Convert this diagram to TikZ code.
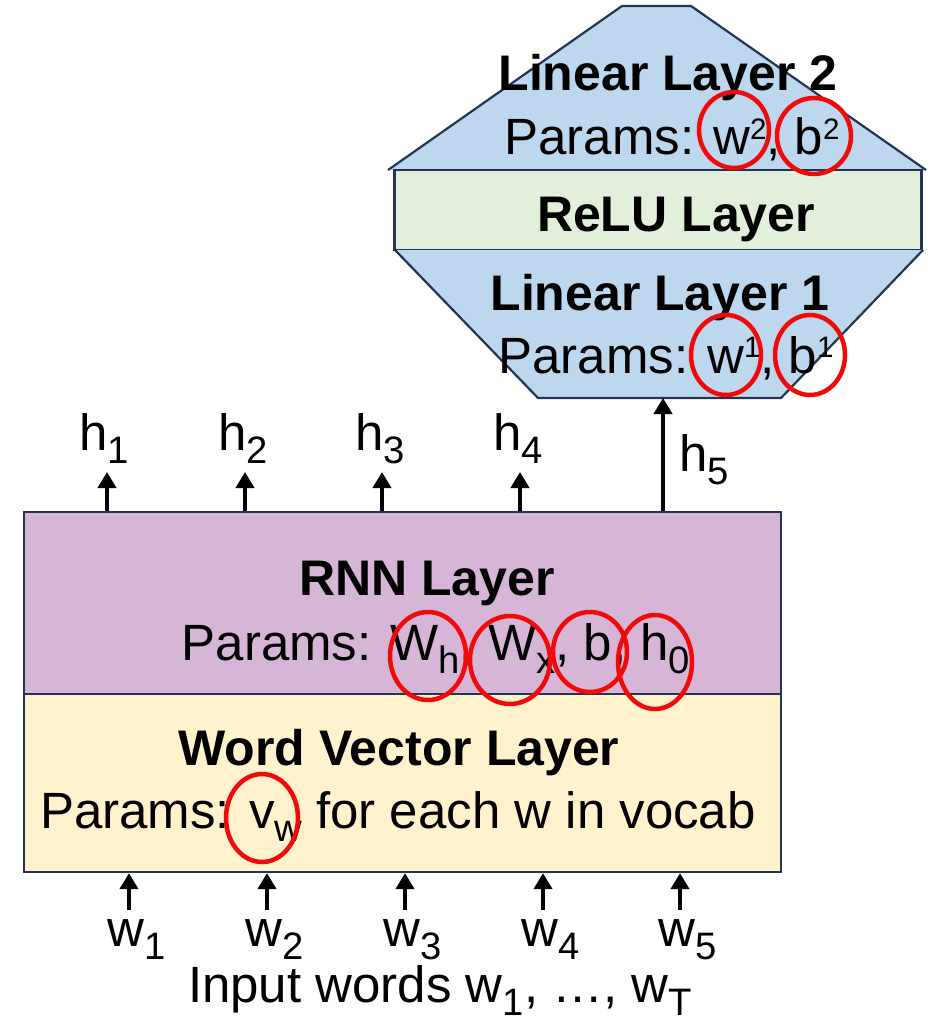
\documentclass[tikz,border=0pt]{standalone}
\usepackage{fontspec}
\usepackage{graphicx}
\setmainfont{Liberation Sans}
\usetikzlibrary{arrows.meta}

\definecolor{linblue}{RGB}{189,215,238}
\definecolor{relugreen}{RGB}{226,239,218}
\definecolor{rnnpurple}{RGB}{214,181,214}
\definecolor{wordyellow}{RGB}{255,242,204}
\definecolor{edgenavy}{RGB}{36,52,86}
\definecolor{ringred}{RGB}{240,10,10}

\newcommand{\lo}[1]{\raisebox{-0.26em}{\scalebox{0.75}{#1}}}
\newcommand{\hi}[1]{\raisebox{0.3em}{\scalebox{0.58}{#1}}}

\tikzset{
    layerbox/.style={draw=edgenavy, line width=2.2pt, inner sep=0pt},
    txt/.style={inner sep=0pt, anchor=base, font=\fontsize{51}{60}\selectfont},
    btxt/.style={txt, font=\fontsize{50}{60}\selectfont\bfseries},
    ring/.style={draw=ringred, line width=4.5pt},
    uparrow/.style={line width=4pt, -{Triangle[length=16pt,width=18pt]}}
}

\begin{document}
\begin{tikzpicture}[x=1pt, y=-1pt]
    \useasboundingbox (0,0) rectangle (933,1024);

    \fill[linblue] (388,170) -- (622,6) -- (691,6) -- (926,170) -- cycle;
    \draw[edgenavy, line width=2.2pt, line join=miter] (388,170) -- (622,6) -- (691,6) -- (926,170);
    \node[layerbox, fill=relugreen, minimum width=527pt, minimum height=80pt] at (658,210) (relu) {};
    \fill[linblue] (395,250) -- (923,250) -- (781,398) -- (538,398) -- cycle;
    \draw[edgenavy, line width=2.2pt] (395,250) -- (538,398) -- (781,398) -- (923,250);
    \coordinate (lin1bot) at (663,398);

    \node[btxt] at (668,91) (lin2title) {Linear Layer 2};
    \node[txt] at (672,155) (lin2params) {Params: w\hi{2}, b\hi{2}};
    \node[btxt] at (676,232) (relutitle) {ReLU Layer};
    \node[btxt] at (660,310) (lin1title) {Linear Layer 1};
    \node[txt] at (666,373) (lin1params) {Params: w\hi{1}, b\hi{1}};

    \node[layerbox, fill=rnnpurple, minimum width=757pt, minimum height=182pt] at (402.5,603) (rnn) {};
    \node[layerbox, fill=wordyellow, minimum width=757pt, minimum height=178pt] at (402.5,783) (wordvec) {};

    \node[btxt] at (427,595) (rnntitle) {RNN Layer};
    \node[txt] at (436,660) (rnnparams) {Params: W\lo{h}, W\lo{x}, b, h\lo{0}};
    \node[btxt] at (399,765) (wordtitle) {Word Vector Layer};
    \node[txt] at (398,828) (wordparams) {Params: v\lo{w} for each w in vocab};

    \draw[ring] (734,130) ellipse (35 and 38);
    \draw[ring] (814,136) ellipse (37 and 38);
    \draw[ring] (726,355) ellipse (35 and 40);
    \draw[ring] (810,355) ellipse (35 and 40);
    \draw[ring] (428,656) ellipse (38 and 44);
    \draw[ring] (510,660) ellipse (40 and 44);
    \draw[ring] (590,652) ellipse (37 and 40);
    \draw[ring] (655,662) ellipse (37 and 47);
    \draw[ring] (262,818) ellipse (36 and 44);

    \node[txt] at (104,450) (h1) {h\lo{1}};
    \node[txt] at (243,450) (h2) {h\lo{2}};
    \node[txt] at (380,450) (h3) {h\lo{3}};
    \node[txt] at (518,450) (h4) {h\lo{4}};
    \node[txt, anchor=base west] at (679,471) (h5) {h\lo{5}};

    \draw[uparrow] (rnn.north -| 107,0) -- (107,472);
    \draw[uparrow] (rnn.north -| 245,0) -- (245,472);
    \draw[uparrow] (rnn.north -| 382,0) -- (382,472);
    \draw[uparrow] (rnn.north -| 520,0) -- (520,472);
    \draw[uparrow] (rnn.north -| lin1bot) -- (lin1bot);

    \node[txt] at (137,946) (w1) {w\lo{1}};
    \node[txt] at (275,946) (w2) {w\lo{2}};
    \node[txt] at (413,946) (w3) {w\lo{3}};
    \node[txt] at (551,946) (w4) {w\lo{4}};
    \node[txt] at (688,946) (w5) {w\lo{5}};

    \draw[uparrow] (129,910) -- (wordvec.south -| 129,0);
    \draw[uparrow] (267,910) -- (wordvec.south -| 267,0);
    \draw[uparrow] (405,910) -- (wordvec.south -| 405,0);
    \draw[uparrow] (543,910) -- (wordvec.south -| 543,0);
    \draw[uparrow] (680,910) -- (wordvec.south -| 680,0);

    \node[txt] at (440,1002) (inputs) {Input words w\lo{1}, …, w\lo{T}};
\end{tikzpicture}
\end{document}
